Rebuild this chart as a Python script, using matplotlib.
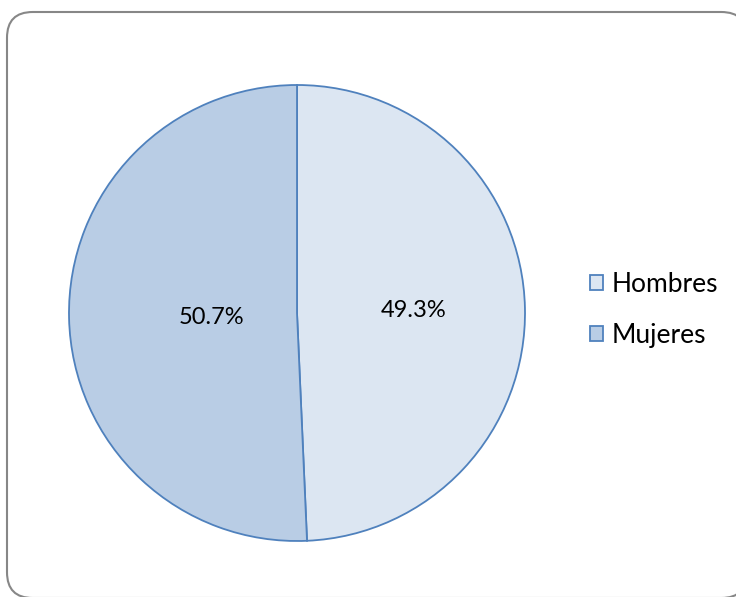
import matplotlib.pyplot as plt
from matplotlib.patches import FancyBboxPatch

# Distribución por sexo
categorias = ["Hombres", "Mujeres"]
porcentajes = [49.3, 50.7]
colores = ["#DCE6F2", "#B9CDE5"]
borde = "#4F81BD"

W, H = 736, 597
fig = plt.figure(figsize=(W / 100, H / 100), dpi=100)
plt.rcParams['font.family'] = ['Lato', 'DejaVu Sans']

# Marco redondeado del área del gráfico
marco = FancyBboxPatch((7 / W, (H - 598) / H), 740 / W, 586 / H,
                       boxstyle="round,pad=0,rounding_size=0.035",
                       transform=fig.transFigure, facecolor="white",
                       edgecolor="#878787", linewidth=1.5,
                       mutation_aspect=W / H, zorder=-1)
fig.patches.append(marco)

# Ejes cuadrados centrados en la tarta
cx, cy, r = 297, 313, 228
ax = fig.add_axes([(cx - r) / W, (H - cy - r) / H, 2 * r / W, 2 * r / H])
ax.patch.set_visible(False)
wedges, textos, pcts = ax.pie(porcentajes, colors=colores, startangle=90,
                              counterclock=False, autopct="%.1f%%",
                              pctdistance=0.5,
                              wedgeprops=dict(edgecolor=borde, linewidth=1.3),
                              textprops=dict(fontsize=17, color="black"))
ax.set_aspect("equal")
ax.set_xlim(-1, 1)
ax.set_ylim(-1, 1)

# Posiciones de las etiquetas de porcentaje
pcts[0].set_position((0.51, 0.01))
pcts[1].set_position((-0.375, -0.02))

leg = fig.legend(wedges, categorias, loc="center left",
                 bbox_to_anchor=(566 / W, 1 - 310 / H), frameon=False,
                 fontsize=19, handlelength=0.5, handleheight=0.5,
                 handletextpad=0.33, labelspacing=0.98)

fig.savefig("out.png", dpi=100)
